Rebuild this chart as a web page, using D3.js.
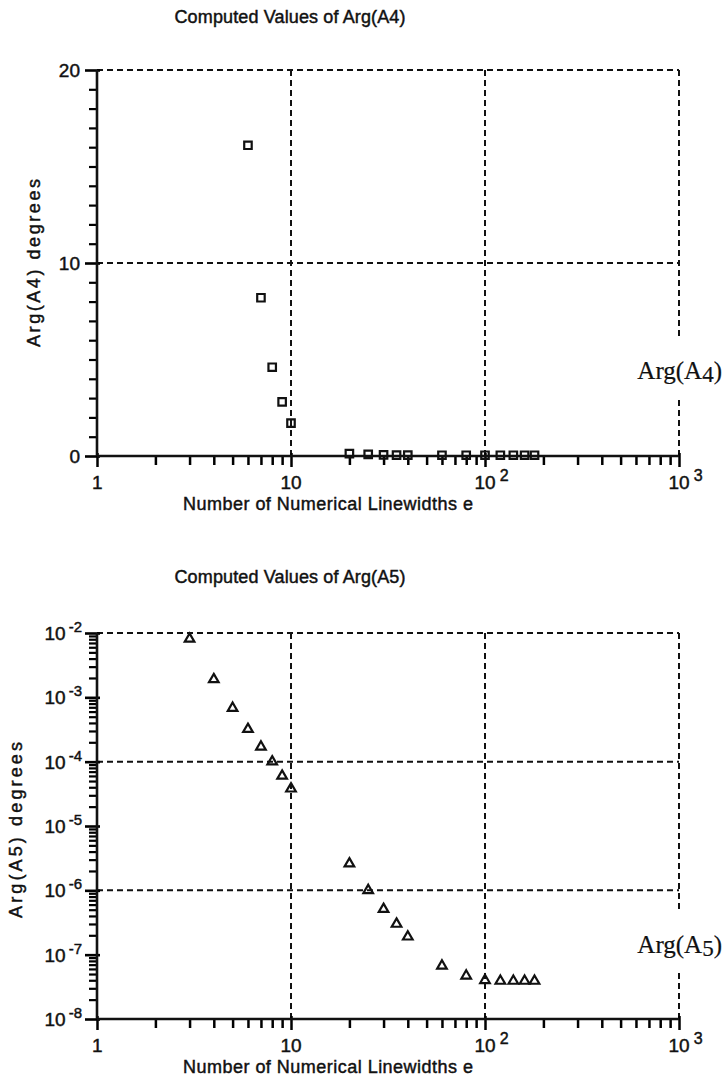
<!DOCTYPE html>
<html>
<head>
<meta charset="utf-8">
<script src="https://cdn.jsdelivr.net/npm/d3@7"></script>
<style>
  body { margin: 0; background: #fff; }
  text { font-family: "Liberation Sans", Arial, sans-serif; fill: #111; stroke: #111; stroke-width: 0.45px; }
  text.serif { stroke-width: 0.2px; }
</style>
</head>
<body>
<svg id="chart" width="726" height="1077"></svg>
<script>
// Arg(A4) values, degrees
const a4_e = [6, 7, 8, 9, 10, 20, 25, 30, 35, 40, 60, 80, 100, 120, 140, 160, 180];
const a4_val = [16.1, 8.2, 4.6, 2.8, 1.7, 0.12, 0.08, 0.06, 0.05, 0.05, 0.04, 0.04, 0.04, 0.04, 0.04, 0.04, 0.04];

// Arg(A5) values, degrees
const a5_e = [3, 4, 5, 6, 7, 8, 9, 10, 20, 25, 30, 35, 40, 60, 80, 100, 120, 140, 160, 180];
const a5_val = [8.1e-3, 1.9e-3, 6.8e-4, 3.2e-4, 1.7e-4, 1.0e-4, 6.0e-5, 3.8e-5,
  2.6e-6, 1.0e-6, 5.1e-7, 3.0e-7, 1.9e-7, 6.7e-8, 4.7e-8, 4.0e-8, 3.9e-8, 3.9e-8, 3.9e-8, 3.9e-8];

const x_decades = [1, 10, 100, 1000];
const x_exp_labels = ["", "", "2", "3"];
const a4_major = [0, 10, 20];
const a4_minor = [1, 2, 3, 4, 5, 6, 7, 8, 9, 11, 12, 13, 14, 15, 16, 17, 18, 19];
const a5_decades = [1e-2, 1e-3, 1e-4, 1e-5, 1e-6, 1e-7, 1e-8];
const a5_exp_labels = ["-2", "-3", "-4", "-5", "-6", "-7", "-8"];

const svg = d3.select("svg#chart");
const dash = "6,4";

const x_scale = d3.scaleLog([1, 1000], [97, 679]);
const y_top = d3.scaleLinear([0, 20], [456, 70]);
const y_bot = d3.scaleLog([1e-8, 1e-2], [1019, 633]);

// minor ticks 2..9 in each decade, exponents given as integers
function log_minor(k_lo, k_hi) {
  let out = [];
  for (let k = k_lo; k < k_hi; k++) {
    for (let m = 2; m <= 9; m++) out.push(m * Math.pow(10, k));
  }
  return out;
}

function tick_group(g, axis, width) {
  const t = g.append("g").call(axis);
  t.select(".domain").remove();
  t.selectAll(".tick line").attr("stroke", "#000").attr("stroke-width", width);
  t.selectAll(".tick text").remove();
  return t;
}

function draw_frame(g, y_scale, y_minor, y_major, y_grid) {
  const [y0, y1] = y_scale.range();
  const [x0, x1] = x_scale.range();

  // dashed grid
  g.selectAll("line.vgrid")
    .data([10, 100, 1000])
    .join("line")
    .attr("class", "vgrid")
    .attr("x1", d => x_scale(d)).attr("x2", d => x_scale(d))
    .attr("y1", y1).attr("y2", y0)
    .attr("stroke", "#111").attr("stroke-width", 2)
    .attr("stroke-dasharray", dash);
  g.selectAll("line.hgrid")
    .data(y_grid)
    .join("line")
    .attr("class", "hgrid")
    .attr("x1", x0).attr("x2", x1)
    .attr("y1", d => y_scale(d)).attr("y2", d => y_scale(d))
    .attr("stroke", "#111").attr("stroke-width", 2)
    .attr("stroke-dasharray", dash);

  // ticks through d3 axes
  tick_group(g.append("g").attr("transform", `translate(0, ${y0})`),
    d3.axisBottom(x_scale).tickValues(log_minor(0, 3)).tickSize(9), 2.5);
  tick_group(g.append("g").attr("transform", `translate(0, ${y0 - 3})`),
    d3.axisBottom(x_scale).tickValues(x_decades).tickSize(14), 2.5);
  tick_group(g.append("g").attr("transform", `translate(${x0}, 0)`),
    d3.axisLeft(y_scale).tickValues(y_minor).tickSize(8), 2.2);
  tick_group(g.append("g").attr("transform", `translate(${x0 + 3}, 0)`),
    d3.axisLeft(y_scale).tickValues(y_major).tickSize(15), 2.6);

  // solid axes
  g.append("line")
    .attr("x1", x0).attr("x2", x1).attr("y1", y0).attr("y2", y0)
    .attr("stroke", "#111").attr("stroke-width", 2.6);
  g.append("line")
    .attr("x1", x0).attr("x2", x0).attr("y1", y0).attr("y2", y1)
    .attr("stroke", "#111").attr("stroke-width", 2.6);

  // x tick labels: "10" centred on the tick, exponent raised after it
  x_decades.forEach((d, i) => {
    const t = g.append("text")
      .attr("class", "xlab")
      .attr("x", x_scale(d) - (d == 1 ? 5 : 10.5))
      .attr("y", y0 + 33)
      .attr("font-size", 19);
    t.append("tspan").text(d == 1 ? "1" : "10");
    if (x_exp_labels[i] != "") {
      t.append("tspan")
        .attr("dx", 4).attr("dy", -8)
        .attr("font-size", 16)
        .text(x_exp_labels[i]);
    }
  });

  g.append("text")
    .attr("x", 328)
    .attr("y", y0 + 54)
    .attr("text-anchor", "middle")
    .attr("font-size", 18)
    .attr("textLength", 290)
    .attr("lengthAdjust", "spacing")
    .text("Number of Numerical Linewidths e");
}

function side_label(g, txt, digit, base_y) {
  g.append("rect")
    .attr("x", 624).attr("y", base_y - 40)
    .attr("width", 102).attr("height", 60)
    .attr("fill", "#fff");
  const t = g.append("text")
    .attr("class", "serif")
    .attr("x", 722)
    .attr("y", base_y)
    .attr("text-anchor", "end")
    .attr("font-size", 25)
    .style("font-family", "'Liberation Serif', 'Times New Roman', serif");
  t.append("tspan").text(txt);
  t.append("tspan").attr("dy", 3).attr("font-size", 23).text(digit);
  t.append("tspan").attr("dy", -3).text(")");
}

// ---------- top chart: Arg(A4)
const top_g = svg.append("g").attr("id", "a4_group");

top_g.append("text")
  .attr("x", 290).attr("y", 23)
  .attr("text-anchor", "middle")
  .attr("font-size", 18)
  .attr("textLength", 231)
  .attr("lengthAdjust", "spacing")
  .text("Computed Values of Arg(A4)");

draw_frame(top_g, y_top, a4_minor, a4_major, [10, 20]);

top_g.selectAll("text.ylab")
  .data(a4_major)
  .join("text")
  .attr("class", "ylab")
  .attr("x", 80)
  .attr("y", d => y_top(d) + 7)
  .attr("text-anchor", "end")
  .attr("font-size", 19)
  .text(d => d);

top_g.append("text")
  .attr("transform", `translate(40, ${y_top(10)}) rotate(-90)`)
  .attr("text-anchor", "middle")
  .attr("font-size", 18)
  .attr("textLength", 168)
  .attr("lengthAdjust", "spacing")
  .text("Arg(A4) degrees");

side_label(top_g, "Arg(A", "4", 379);

top_g.selectAll("path.sq")
  .data(a4_e.map((e, i) => ({ e: e, v: a4_val[i] })))
  .join("path")
  .attr("class", "sq")
  .attr("d", d3.symbol(d3.symbolSquare, 56))
  .attr("transform", d => `translate(${x_scale(d.e)}, ${y_top(d.v)})`)
  .attr("fill", "none")
  .attr("stroke", "#111")
  .attr("stroke-width", 2.2);

// ---------- bottom chart: Arg(A5)
const bot_g = svg.append("g").attr("id", "a5_group");

bot_g.append("text")
  .attr("x", 290).attr("y", 583)
  .attr("text-anchor", "middle")
  .attr("font-size", 18)
  .attr("textLength", 231)
  .attr("lengthAdjust", "spacing")
  .text("Computed Values of Arg(A5)");

draw_frame(bot_g, y_bot, log_minor(-8, -2), a5_decades, [1e-2, 1e-4, 1e-6]);

a5_decades.forEach((d, i) => {
  const t = bot_g.append("text")
    .attr("class", "ylab")
    .attr("x", 82)
    .attr("y", y_bot(d) + 7)
    .attr("text-anchor", "end")
    .attr("font-size", 19);
  t.append("tspan").text("10");
  t.append("tspan")
    .attr("dx", 3).attr("dy", -8)
    .attr("font-size", 15)
    .text(a5_exp_labels[i]);
});

bot_g.append("text")
  .attr("transform", `translate(22, 830) rotate(-90)`)
  .attr("text-anchor", "middle")
  .attr("font-size", 18)
  .attr("textLength", 176)
  .attr("lengthAdjust", "spacing")
  .text("Arg(A5) degrees");

side_label(bot_g, "Arg(A", "5", 953);

bot_g.selectAll("path.tri")
  .data(a5_e.map((e, i) => ({ e: e, v: a5_val[i] })))
  .join("path")
  .attr("class", "tri")
  .attr("d", d3.symbol(d3.symbolTriangle, 40))
  .attr("transform", d => `translate(${x_scale(d.e)}, ${y_bot(d.v)})`)
  .attr("fill", "none")
  .attr("stroke", "#111")
  .attr("stroke-width", 2.2);
</script>
</body>
</html>
